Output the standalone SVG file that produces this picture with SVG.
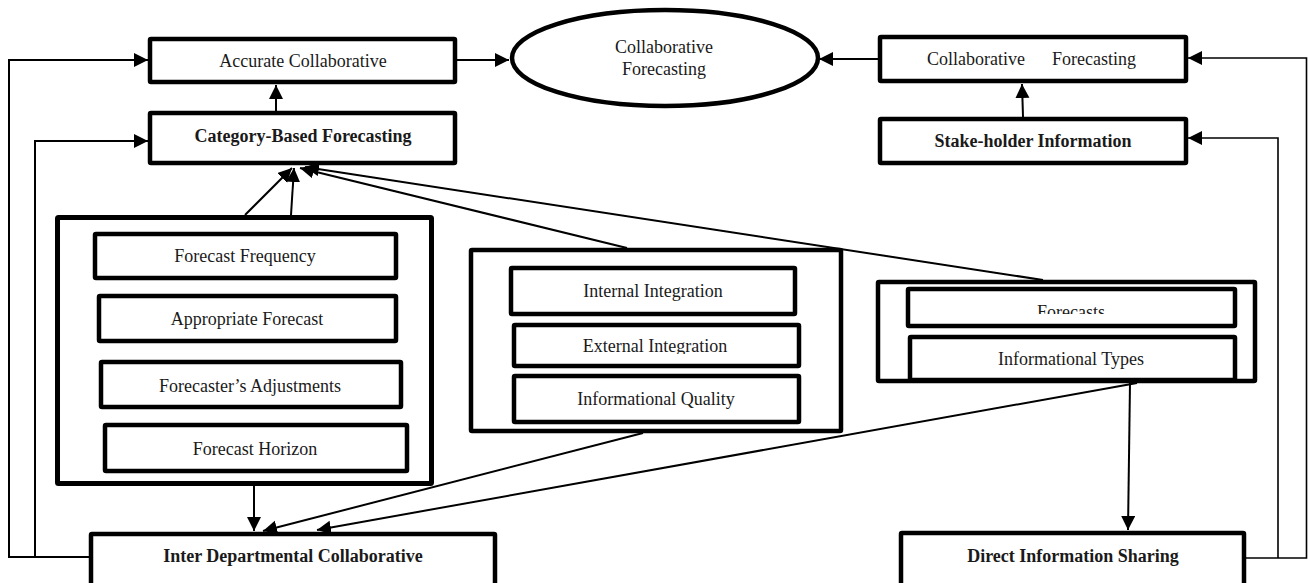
<svg xmlns="http://www.w3.org/2000/svg" width="1308" height="583" viewBox="0 0 1308 583">
<style>
.box{fill:#fff;stroke:#000;stroke-width:4.5}
.grp{fill:#fff;stroke:#000;stroke-width:4.5}
.t{font-family:"Liberation Serif","Times New Roman",serif;font-size:18px;fill:#1a1a1a;text-anchor:middle}
.b{font-weight:bold}
.c{fill:none;stroke:#000;stroke-width:2}
.c2{fill:none;stroke:#000;stroke-width:1.6}
</style>
<defs>
<marker id="ah" markerUnits="userSpaceOnUse" markerWidth="15" markerHeight="15" refX="14" refY="7" orient="auto">
<path d="M0,0 L14,7 L0,14 z" fill="#000"/>
</marker>
<clipPath id="clipF"><rect x="906" y="290" width="330" height="24"/></clipPath>
<clipPath id="clipE"><rect x="512" y="326" width="288" height="28"/></clipPath>
</defs>

<g id="accurate">
<rect class="box" x="150" y="39" width="305" height="43" rx="1"/>
<text class="t" x="303" y="67">Accurate Collaborative</text>
</g>
<g id="category">
<rect class="box" x="150" y="113" width="305" height="50" rx="1"/>
<text class="t b" x="303" y="142">Category-Based Forecasting</text>
</g>
<g id="collab-ellipse">
<ellipse cx="665" cy="58" rx="153" ry="48" fill="#fff" stroke="#000" stroke-width="4.5"/>
<text class="t" x="664" y="53">Collaborative</text>
<text class="t" x="664" y="75">Forecasting</text>
</g>
<g id="collab-forecasting">
<rect class="box" x="880" y="37" width="306" height="44" rx="1"/>
<text class="t" style="text-anchor:start" y="65"><tspan x="927">Collaborative</tspan><tspan x="1052">Forecasting</tspan></text>
</g>
<g id="stakeholder">
<rect class="box" x="880" y="119" width="306" height="44" rx="1"/>
<text class="t b" x="1033" y="147">Stake-holder Information</text>
</g>

<g id="left-group">
<rect class="grp" x="57.5" y="217.5" width="374" height="266" rx="1" style="stroke-width:5"/>
<g id="forecast-frequency">
<rect class="box" x="95" y="234" width="301" height="44" rx="1"/>
<text class="t" x="245" y="262">Forecast Frequency</text>
</g>
<g id="appropriate-forecast">
<rect class="box" x="99" y="296" width="297" height="45" rx="1"/>
<text class="t" x="247" y="325">Appropriate Forecast</text>
</g>
<g id="forecaster-adjustments">
<rect class="box" x="101" y="362" width="300" height="45" rx="1"/>
<text class="t" x="250" y="392">Forecaster’s Adjustments</text>
</g>
<g id="forecast-horizon">
<rect class="box" x="105" y="425" width="302" height="46" rx="1"/>
<text class="t" x="255" y="455">Forecast Horizon</text>
</g>
</g>

<g id="middle-group">
<rect class="grp" x="471" y="250" width="370" height="181" rx="1"/>
<g id="internal-integration">
<rect class="box" x="511" y="268" width="284" height="46" rx="1"/>
<text class="t" x="653" y="297">Internal Integration</text>
</g>
<g id="external-integration">
<rect class="box" x="514" y="325" width="285" height="41" rx="1"/>
<text class="t" x="655" y="352" clip-path="url(#clipE)">External Integration</text>
</g>
<g id="informational-quality">
<rect class="box" x="514" y="376" width="285" height="46" rx="1"/>
<text class="t" x="656" y="405">Informational Quality</text>
</g>
</g>

<g id="right-group">
<rect class="grp" x="878" y="282" width="377" height="99" rx="1"/>
<g id="forecasts">
<rect class="box" x="908" y="289" width="327" height="37" rx="1"/>
<text class="t" x="1071" y="318" clip-path="url(#clipF)">Forecasts</text>
</g>
<g id="informational-types">
<rect class="box" x="910" y="337" width="325" height="43" rx="1"/>
<text class="t" x="1071" y="365">Informational Types</text>
</g>
</g>

<g id="inter-departmental">
<rect class="box" x="91" y="534" width="404" height="60" rx="1"/>
<text class="t b" x="293" y="562">Inter Departmental Collaborative</text>
</g>
<g id="direct-sharing">
<rect class="box" x="901" y="533" width="343" height="60" rx="1"/>
<text class="t b" x="1073" y="562">Direct Information Sharing</text>
</g>

<g id="connectors">
<line class="c" x1="455" y1="60" x2="509" y2="60" marker-end="url(#ah)"/>
<line class="c" x1="878" y1="59" x2="819" y2="59" marker-end="url(#ah)"/>
<line class="c" x1="276" y1="111" x2="276" y2="85" marker-end="url(#ah)"/>
<line class="c" x1="1023" y1="117" x2="1022" y2="84" marker-end="url(#ah)"/>
<line class="c" x1="245" y1="215" x2="292" y2="168" marker-end="url(#ah)"/>
<line class="c" x1="291" y1="215" x2="294" y2="168" marker-end="url(#ah)"/>
<line class="c" x1="627" y1="248" x2="300" y2="168" marker-end="url(#ah)"/>
<line class="c" x1="1043" y1="280" x2="305" y2="167" marker-end="url(#ah)"/>
<line class="c" x1="254" y1="486" x2="254" y2="531" marker-end="url(#ah)"/>
<line class="c" x1="643" y1="433" x2="263" y2="531" marker-end="url(#ah)"/>
<line class="c" x1="1137" y1="383" x2="317" y2="530" marker-end="url(#ah)"/>
<line class="c" x1="1130" y1="383" x2="1128" y2="530" marker-end="url(#ah)"/>
<polyline class="c" points="89,557 9,557 9,60 148,60" marker-end="url(#ah)"/>
<polyline class="c" points="35,557 35,141 148,141" marker-end="url(#ah)"/>
<polyline class="c2" points="1246,558 1306.5,558 1306.5,58 1188,58" marker-end="url(#ah)"/>
<polyline class="c2" points="1278,558 1278,138 1188,138" marker-end="url(#ah)"/>
</g>
</svg>
